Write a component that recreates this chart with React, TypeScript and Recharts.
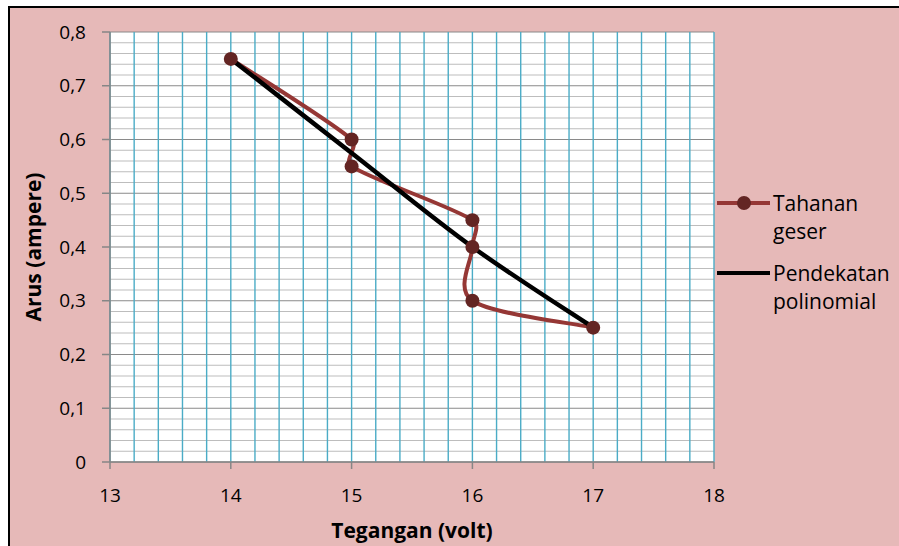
import React from "react";
import { CartesianGrid, Label, Line, LineChart, ReferenceLine, XAxis, YAxis } from "recharts";

// measured points (tegangan in volt, arus in ampere)
const tahananX = [14, 15, 15, 16, 16, 16, 17];
const tahananY = [0.75, 0.6, 0.55, 0.45, 0.4, 0.3, 0.25];

// polynomial trend
const polinomialX = [14, 15, 16, 17];
const polinomialY = [0.75, 0.575, 0.4, 0.25];

const xTicks = [13, 14, 15, 16, 17, 18];
const yTicks = [0, 0.1, 0.2, 0.3, 0.4, 0.5, 0.6, 0.7, 0.8];
const xGrid = Array.from({ length: 26 }, (_, i) => +(13 + i * 0.2).toFixed(1));
const yGrid = Array.from({ length: 41 }, (_, i) => +(i * 0.02).toFixed(2));

const seriesNames = ["Tahanan geser", "Pendekatan polinomial"];
const seriesColors = ["#953735", "#000000"];
const dotColor = "#632523";

const tahananData = tahananX.map((x, i) => ({ x, y: tahananY[i] }));
const polinomialData = polinomialX.map((x, i) => ({ x, y: polinomialY[i] }));

const FONT = "'Open Sans', sans-serif";

// smoothed line close to what a spreadsheet draws
const smoothCurve = (context: any) => {
  let pts: number[][] = [];
  return {
    areaStart() {},
    areaEnd() {},
    lineStart() {
      pts = [];
    },
    point(x: number, y: number) {
      pts.push([+x, +y]);
    },
    lineEnd() {
      const n = pts.length;
      if (!n) return;
      context.moveTo(pts[0][0], pts[0][1]);
      for (let i = 0; i < n - 1; i++) {
        const p0 = pts[Math.max(i - 1, 0)];
        const p1 = pts[i];
        const p2 = pts[i + 1];
        const p3 = pts[Math.min(i + 2, n - 1)];
        const seg = Math.hypot(p2[0] - p1[0], p2[1] - p1[1]);
        const arm = (a: number[], b: number[]) => {
          const dx = b[0] - a[0];
          const dy = b[1] - a[1];
          const len = Math.hypot(dx, dy) || 1;
          const l = Math.min(len / 6, seg * 0.4);
          return [(dx / len) * l, (dy / len) * l];
        };
        const t1 = arm(p0, p2);
        const t2 = arm(p1, p3);
        context.bezierCurveTo(
          p1[0] + t1[0],
          p1[1] + t1[1],
          p2[0] - t2[0],
          p2[1] - t2[1],
          p2[0],
          p2[1]
        );
      }
    },
  };
};

const formatY = (v: number) => (v === 0 ? "0" : v.toFixed(1).replace(".", ","));
const isMajorY = (v: number) => Math.abs(v * 10 - Math.round(v * 10)) < 1e-6;

const YTitle = ({ viewBox }: any) => {
  const x = viewBox.x + 23;
  const y = viewBox.y + viewBox.height / 2;
  return (
    <text
      x={x}
      y={y}
      transform={`rotate(-90, ${x}, ${y})`}
      textAnchor="middle"
      dominantBaseline="central"
      fontFamily={FONT}
      fontWeight="bold"
      fontSize={21}
      fill="#000"
    >
      Arus (ampere)
    </text>
  );
};

const XTitle = ({ viewBox }: any) => (
  <text
    x={viewBox.x + viewBox.width / 2}
    y={viewBox.y + 76}
    textAnchor="middle"
    fontFamily={FONT}
    fontWeight="bold"
    fontSize={21}
    fill="#000"
  >
    Tegangan (volt)
  </text>
);

const ChartLegend = () => (
  <div
    style={{
      position: "absolute",
      left: 707,
      top: 181,
      fontFamily: FONT,
      fontSize: 21,
      lineHeight: "28px",
      color: "#000",
    }}
  >
    {seriesNames.map((name, i) => (
      <div key={name} style={{ display: "flex", marginTop: i === 0 ? 0 : 14 }}>
        <svg width={56} height={28} style={{ flex: "none" }}>
          <line x1={0} y1={14} x2={53} y2={14} stroke={seriesColors[i]} strokeWidth={4} />
          {i === 0 && <circle cx={27} cy={14} r={7} fill={dotColor} />}
        </svg>
        <div>
          {name.split(" ").map((w) => (
            <div key={w}>{w}</div>
          ))}
        </div>
      </div>
    ))}
  </div>
);

export default function App() {
  return (
    <div
      style={{
        position: "absolute",
        left: 8,
        top: 6,
        width: 891,
        height: 540,
        boxSizing: "border-box",
        borderLeft: "2px solid #000",
        borderTop: "2px solid #000",
        background: "#E6B9B8",
      }}
    >
      <LineChart
        width={889}
        height={538}
        margin={{ top: 24, right: 185, left: 0, bottom: 4 }}
      >
        <CartesianGrid horizontal={false} vertical={false} fill="#fff" />
        {yGrid.map((v) => (
          <ReferenceLine
            key={`h-${v}`}
            y={v}
            stroke={isMajorY(v) ? "#8A8A8A" : "#BDBDBD"}
            strokeWidth={1.2}
            zIndex={-90}
          />
        ))}
        {xGrid.map((v) => (
          <ReferenceLine key={`v-${v}`} x={v} stroke="#4BACC6" strokeWidth={1.4} zIndex={-80} />
        ))}
        <XAxis
          dataKey="x"
          type="number"
          domain={[13, 18]}
          ticks={xTicks}
          height={80}
          tickSize={7}
          tickMargin={20}
          stroke="#868686"
          strokeWidth={1.5}
          tick={{ fill: "#000", fontSize: 19, fontFamily: FONT }}
        >
          <Label content={<XTitle />} />
        </XAxis>
        <YAxis
          type="number"
          domain={[0, 0.8]}
          ticks={yTicks}
          width={100}
          tickSize={8}
          tickMargin={16}
          tickFormatter={formatY}
          stroke="#868686"
          strokeWidth={1.5}
          tick={{ fill: "#000", fontSize: 19, fontFamily: FONT }}
        >
          <Label content={<YTitle />} />
        </YAxis>
        <Line
          data={tahananData}
          dataKey="y"
          name={seriesNames[0]}
          type={smoothCurve as any}
          stroke={seriesColors[0]}
          strokeWidth={4}
          dot={{ r: 7, fill: dotColor, stroke: dotColor, strokeWidth: 0 }}
          isAnimationActive={false}
        />
        <Line
          data={polinomialData}
          dataKey="y"
          name={seriesNames[1]}
          type={smoothCurve as any}
          stroke={seriesColors[1]}
          strokeWidth={4.5}
          dot={false}
          isAnimationActive={false}
        />
      </LineChart>
      <ChartLegend />
    </div>
  );
}
